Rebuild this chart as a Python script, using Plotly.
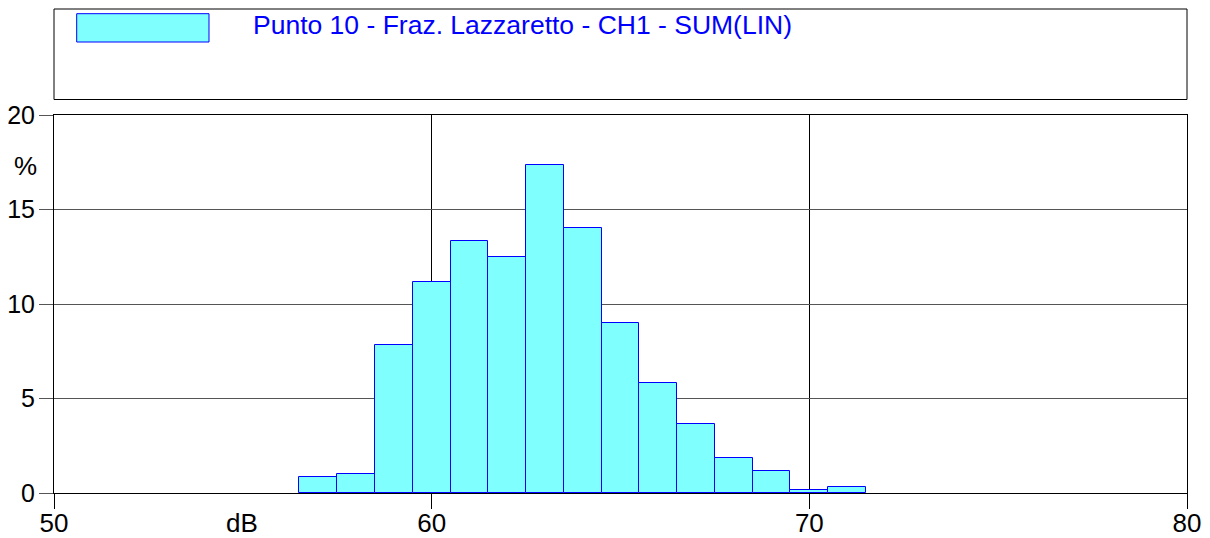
import plotly.graph_objects as go

# Data
levels_db = [57, 58, 59, 60, 61, 62, 63, 64, 65, 66, 67, 68, 69, 70, 71]
percent = [0.83, 1.0, 7.83, 11.16, 13.35, 12.5, 17.33, 14.0, 9.0, 5.84, 3.65, 1.83, 1.16, 0.16, 0.32]
series_name = "Punto 10 - Fraz. Lazzaretto - CH1 - SUM(LIN)"
x_ticks = [50, 60, 70, 80]
y_ticks = [0, 5, 10, 15, 20]

FONT = "Liberation Sans, Arial, sans-serif"
FS = 26

# page offset (default body margin of 8px)
OFF = 8
PL, PR, PT, PB = 54, 1187, 115, 493   # plot area in page pixels
PW, PH = PR - PL, PB - PT


def px(x):
    return (x - PL) / PW


def py(y):
    return (PB - y) / PH


fig = go.Figure()
fig.add_trace(go.Bar(
    x=levels_db, y=percent, width=1.0,
    marker=dict(color="#80FFFF", line=dict(color="#0000FF", width=1)),
    name=series_name, showlegend=False,
))

fig.update_layout(
    width=1202, height=530,
    margin=dict(l=PL - OFF, r=1202 + OFF - PR, t=PT - OFF, b=530 + OFF - PB, pad=0,
                autoexpand=False),
    paper_bgcolor="white", plot_bgcolor="white",
    font=dict(family=FONT, size=FS, color="black"),
    bargap=0,
    xaxis=dict(range=[50, 80], tickvals=x_ticks, ticks="outside", ticklen=15,
               tickcolor="black", showgrid=True, gridcolor="black", gridwidth=1,
               showline=True, linecolor="black", mirror=True, zeroline=False,
               tickfont=dict(size=FS), automargin=False, ticklabelstandoff=-8),
    yaxis=dict(range=[0, 20], tickvals=y_ticks, ticks="outside", ticklen=14,
               tickcolor="#555", showgrid=True, gridcolor="#555", gridwidth=1,
               showline=True, linecolor="black", mirror=True, zeroline=False,
               tickfont=dict(size=25), automargin=False, ticklabelstandoff=-1),
)

# legend box drawn manually
fig.add_shape(type="rect", xref="paper", yref="paper", x0=0, x1=1,
              y0=py(99.5), y1=py(9),
              line=dict(color="black", width=1), fillcolor="white")
fig.add_shape(type="rect", xref="paper", yref="paper",
              x0=px(76.7), x1=px(209),
              y0=py(42), y1=py(13.7),
              line=dict(color="#0000FF", width=1), fillcolor="#80FFFF")
fig.add_annotation(xref="paper", yref="paper", x=px(251), y=py(25),
                   xanchor="left", yanchor="middle", showarrow=False,
                   text=series_name, font=dict(family=FONT, size=26.5, color="#0000FF"))

# axis unit labels
fig.add_annotation(xref="paper", yref="paper", x=px(25.5), y=py(166),
                   xanchor="center", yanchor="middle", showarrow=False, text="%",
                   font=dict(family=FONT, size=FS, color="black"))
fig.add_annotation(xref="paper", yref="paper", x=px(242), y=py(523),
                   xanchor="center", yanchor="middle", showarrow=False, text="dB",
                   font=dict(family=FONT, size=FS, color="black"))

fig.write_html("out.html")
